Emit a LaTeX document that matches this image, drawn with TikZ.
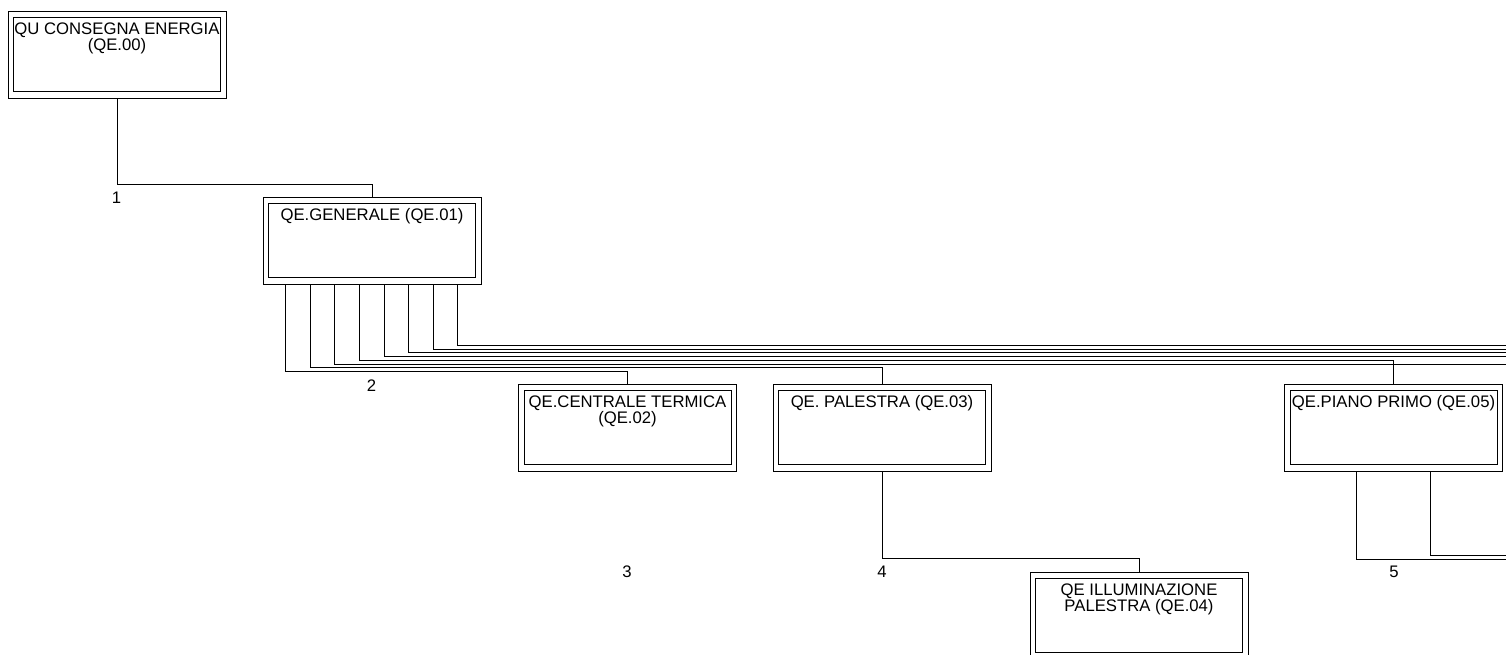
\documentclass[tikz,border=0pt]{standalone}
\usepackage{fontspec}
\setmainfont{Liberation Sans}
\usetikzlibrary{calc, positioning}

\tikzset{
  quadro/.style={draw, line width=0.9pt, anchor=north, inner sep=0pt,
    minimum width=218pt, align=center, text height=23.5pt, text depth=63.5pt,
    font=\fontsize{16.7}{15.5}\selectfont},
  quadro2/.style={quadro, text height=39pt, text depth=48pt},
  linea/.style={line width=0.9pt},
  numero/.style={inner sep=0pt, font=\fontsize{16.7}{15.5}\selectfont}
}

\begin{document}
\begin{tikzpicture}[x=1pt, y=-1pt]
    \useasboundingbox (0,0) rectangle (1506,654);

    % quadri elettrici
    \node[quadro2] (qe00) at (117,11) {QU CONSEGNA ENERGIA\\(QE.00)};
    \node[quadro] (qe01) at (372,197) {QE.GENERALE (QE.01)};
    \node[quadro2] (qe02) at (627.5,384) {QE.CENTRALE TERMICA\\(QE.02)};
    \node[quadro] (qe03) at (882,384) {QE. PALESTRA (QE.03)};
    \node[quadro2] (qe04) at (1139,572) {QE ILLUMINAZIONE\\PALESTRA (QE.04)};
    \node[quadro] (qe05) at (1393.5,384) {QE.PIANO PRIMO (QE.05)};

    % cornice interna
    \foreach \n in {qe00,qe01,qe02,qe03,qe04,qe05}
        \draw[linea] ($(\n.north west)+(6,6.5)$) rectangle ($(\n.south east)+(-6,-7.5)$);

    % numeri delle linee
    \node[numero] (n1) at (116.5,198) {1};
    \node[numero] (n2) at (371.5,386) {2};
    \node[numero] (n3) at (627,572) {3};
    \node[numero] (n4) at (882,572) {4};
    \node[numero] (n5) at (1394,572) {5};

    % collegamenti
    \draw[linea] (qe00.south) |- ($(qe01.north)+(0,-13)$) -- (qe01.north);
    \draw[linea] (qe03.south) |- ($(qe04.north)+(0,-14)$) -- (qe04.north);

    % partenze dal QE.01
    \foreach \i/\lvl/\dest in {0/371.3/qe02, 1/367.7/qe03, 3/360/qe05}
        \draw[linea] (qe01.south west) ++(23+24.6*\i,0) |- (\dest.north |- 0,\lvl) -- (\dest.north);
    \foreach \i/\lvl in {2/364, 4/356.3, 5/352.7, 6/349, 7/345.3} {
        \coordinate (out\i) at (1506,\lvl);
        \draw[linea] (qe01.south west) ++(23+24.6*\i,0) |- (out\i);
    }

    % partenze dal QE.05
    \coordinate (out51) at (1506,559);
    \coordinate (out52) at (1506,555);
    \draw[linea] (qe05.south west) ++(72.5,0) |- (out51);
    \draw[linea] (qe05.south west) ++(146.5,0) |- (out52);
\end{tikzpicture}
\end{document}
